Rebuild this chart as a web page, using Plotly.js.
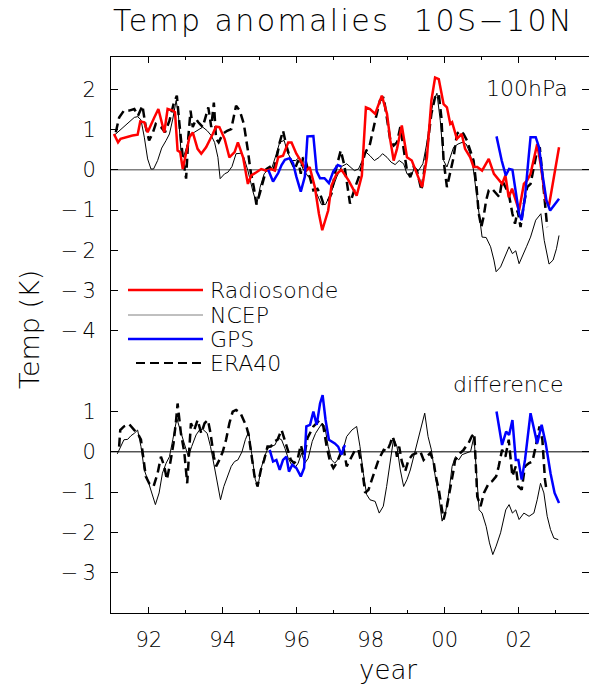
<!DOCTYPE html>
<html>
<head>
<meta charset="utf-8">
<script src="https://cdn.plot.ly/plotly-3.0.1.min.js"></script>
<style>html,body{margin:0;padding:0;background:#fff;}#chart{width:592px;height:684px;}</style>
</head>
<body>
<div id="chart"></div>
<script>
// ---------------- DATA ----------------
// Top panel: 100 hPa temperature anomalies (K)
const radYears = [
 1991.06,1991.17,1991.24,1991.38,1991.56,1991.70,1991.77,1991.88,1991.97,1992.15,
 1992.26,1992.42,1992.51,1992.65,1992.71,1992.78,1992.85,1992.92,1993.01,1993.10,
 1993.19,1993.32,1993.42,1993.55,1993.73,1993.82,1993.91,1994.05,1994.18,1994.32,
 1994.41,1994.55,1994.68,1994.77,1994.91,1994.97,1995.04,1995.18,1995.31,1995.41,
 1995.50,1995.63,1995.77,1995.86,1995.99,1996.13,1996.26,1996.35,1996.49,1996.60,
 1996.69,1996.85,1996.94,1997.08,1997.21,1997.40,1997.62,1997.76,1997.87,1997.98,
 1998.12,1998.30,1998.44,1998.53,1998.62,1998.71,1998.84,1998.98,1999.11,1999.25,
 1999.39,1999.52,1999.64,1999.74,1999.84,1999.97,2000.06,2000.15,2000.20,2000.33,
 2000.46,2000.55,2000.69,2000.78,2000.88,2001.01,2001.19,2001.33,2001.46,2001.55,
 2001.64,2001.73,2001.82,2001.92,2002.01,2002.14,2002.23,2002.32,2002.50,2002.59,
 2002.73,2002.82,2002.95,2003.09];
const radVals = [
 0.89,0.68,0.77,0.81,0.85,0.87,1.20,1.18,0.93,1.30,
 1.51,0.93,1.51,1.47,1.43,0.48,0.44,0.02,0.44,0.81,
 0.93,0.52,0.40,0.56,0.89,1.07,1.06,0.77,0.31,0.44,
 0.68,0.31,-0.35,-0.14,-0.06,-0.02,0.02,-0.02,0.02,-0.02,
 0.31,0.35,0.68,0.68,0.40,0.19,-0.02,0.07,-0.43,-1.09,
 -1.50,-1.01,-0.39,-0.10,0.00,-0.26,-0.64,-0.14,1.55,1.51,
 1.39,1.84,1.39,0.73,0.23,0.52,1.10,0.31,0.23,-0.10,
 -0.43,0.31,1.72,2.29,2.25,1.63,1.55,1.14,1.18,0.77,
 0.89,0.52,0.31,0.07,0.07,-0.02,0.27,-0.10,-0.26,-0.35,
 -0.14,-0.68,-0.47,-0.76,-1.01,-0.35,-0.26,-0.10,0.64,0.15,
 -0.76,-0.88,-0.18,0.56];

const ncepYears = [
 1991.06,1991.20,1991.33,1991.47,1991.61,1991.70,1991.79,1991.88,1991.97,1992.06,
 1992.13,1992.24,1992.35,1992.47,1992.56,1992.65,1992.74,1992.80,1992.87,1992.94,
 1993.04,1993.13,1993.23,1993.37,1993.46,1993.58,1993.69,1993.78,1993.87,1993.93,
 1994.05,1994.14,1994.25,1994.36,1994.48,1994.57,1994.68,1994.82,1994.92,1995.01,
 1995.12,1995.22,1995.33,1995.42,1995.54,1995.66,1995.75,1995.86,1995.97,1996.06,
 1996.17,1996.31,1996.42,1996.54,1996.67,1996.78,1996.92,1997.08,1997.21,1997.35,
 1997.47,1997.56,1997.67,1997.77,1997.87,1997.98,1998.10,1998.23,1998.32,1998.44,
 1998.55,1998.66,1998.77,1998.89,1998.98,1999.10,1999.18,1999.29,1999.41,1999.52,
 1999.61,1999.70,1999.79,1999.88,1999.97,2000.06,2000.15,2000.24,2000.36,2000.47,
 2000.58,2000.67,2000.76,2000.85,2000.94,2001.01,2001.12,2001.24,2001.33,2001.39,
 2001.51,2001.65,2001.74,2001.83,2001.92,2002.01,2002.10,2002.21,2002.32,2002.46,
 2002.60,2002.69,2002.82,2002.93,2003.02,2003.09];
const ncepVals = [
 0.85,0.97,1.06,1.18,1.30,1.32,1.24,0.81,0.27,0.02,
 0.02,0.23,0.54,0.73,0.89,1.26,1.72,1.39,0.48,0.31,
 0.64,0.89,0.93,1.01,1.06,0.97,0.85,0.68,0.31,-0.22,
 -0.10,-0.06,0.08,0.40,0.41,0.31,-0.02,-0.55,-0.86,-0.43,
 -0.10,0.00,0.05,0.31,0.68,0.73,0.44,0.23,0.23,0.30,
 0.02,-0.17,-0.18,-0.59,-0.86,-0.86,-0.59,-0.18,0.08,0.15,
 0.05,-0.02,0.02,0.23,0.44,0.35,0.23,0.31,0.40,0.31,
 0.19,0.13,0.23,0.15,-0.10,-0.14,0.05,-0.02,0.15,0.68,
 1.30,1.72,1.90,1.22,0.23,0.07,0.31,0.56,0.64,0.68,
 0.64,0.44,0.11,-0.51,-1.17,-1.67,-1.68,-1.91,-2.24,-2.53,
 -2.41,-2.08,-1.91,-2.08,-2.01,-2.33,-2.12,-1.91,-1.67,-1.25,
 -1.09,-1.75,-2.34,-2.24,-1.96,-1.63];

const gpsYears = [
 1995.23,1995.36,1995.50,1995.59,1995.68,1995.81,1995.90,1995.99,1996.11,1996.22,
 1996.29,1996.45,1996.54,1996.63,1996.75,1996.87,1996.99,1997.11,1997.21,1999.00,
 2001.40,2001.54,2001.65,2001.74,2001.83,2001.92,2002.01,2002.08,2002.17,2002.26,
 2002.32,2002.46,2002.55,2002.64,2002.75,2002.85,2002.93,2003.09];
const gpsVals = [
 0.00,-0.29,-0.08,0.12,0.25,0.29,0.17,-0.17,-0.54,-0.17,
 0.83,0.84,-0.04,-0.21,-0.21,-0.33,-0.04,0.12,0.08,null,
 0.83,0.23,-0.14,0.02,0.00,-0.51,-1.09,-1.25,-0.68,0.23,
 0.81,0.81,0.56,-0.10,-0.76,-1.01,-0.92,-0.72];

const eraYears = [
 1991.11,1991.20,1991.33,1991.47,1991.61,1991.71,1991.83,1991.92,1992.01,1992.10,
 1992.19,1992.33,1992.44,1992.56,1992.67,1992.76,1992.83,1992.92,1993.01,1993.07,
 1993.13,1993.19,1993.28,1993.34,1993.46,1993.58,1993.61,1993.69,1993.76,1993.82,
 1993.89,1994.00,1994.12,1994.23,1994.36,1994.46,1994.57,1994.68,1994.75,1994.84,
 1994.91,1995.00,1995.09,1995.18,1995.27,1995.36,1995.45,1995.54,1995.63,1995.72,
 1995.84,1995.95,1996.04,1996.11,1996.17,1996.24,1996.33,1996.45,1996.56,1996.63,
 1996.72,1996.85,1996.94,1997.03,1997.12,1997.19,1997.29,1997.44,1997.58,1997.71,
 1997.84,1997.98,1998.12,1998.25,1998.35,1998.44,1998.53,1998.62,1998.71,1998.80,
 1998.89,1998.98,1999.07,1999.16,1999.25,1999.37,1999.46,1999.55,1999.64,1999.74,
 1999.84,1999.91,1999.97,2000.06,2000.15,2000.24,2000.33,2000.42,2000.51,2000.60,
 2000.69,2000.78,2000.86,2000.92,2000.99,2001.05,2001.12,2001.19,2001.28,2001.39,
 2001.48,2001.55,2001.64,2001.73,2001.83,2001.90,2001.97,2002.05,2002.14,2002.23,
 2002.32,2002.41,2002.50,2002.57,2002.64,2002.71,2002.77];
const eraVals = [
 0.93,1.30,1.47,1.47,1.51,1.34,1.59,1.06,0.73,0.89,
 1.14,1.06,0.93,1.22,1.63,1.84,1.14,0.31,-0.22,0.81,
 1.47,1.06,1.26,1.18,1.06,1.47,1.55,1.06,1.67,0.77,
 0.68,0.89,0.97,1.01,1.59,1.47,1.14,0.48,-0.02,-0.43,
 -0.86,-0.59,-0.26,0.02,0.07,-0.06,0.27,0.68,0.97,0.60,
 0.23,0.02,0.23,-0.10,0.31,0.23,-0.10,-0.51,-0.47,-0.59,
 -0.84,-0.76,-0.59,-0.10,0.23,0.48,0.10,-0.84,-0.43,-0.10,
 0.40,0.64,1.22,1.72,1.80,1.30,0.73,0.60,0.68,1.06,
 0.56,-0.02,-0.18,0.07,-0.02,-0.51,0.07,0.81,1.39,1.80,
 1.88,1.30,0.23,-0.43,-0.02,0.31,0.89,0.97,0.89,0.73,
 0.48,0.23,-0.43,-1.09,-1.42,-1.17,-0.76,-0.51,-0.47,-0.59,
 -0.68,-0.26,-0.43,-0.59,-1.09,-1.34,-1.01,-1.42,-0.84,-0.43,
 -0.35,0.07,0.48,0.56,-0.07,-0.76,-1.42];

// Bottom panel: differences (K), drawn shifted down by DIFF_OFFSET
const DIFF_OFFSET = -7;
const ncepDiffYears = [
 1991.15,1991.24,1991.33,1991.43,1991.52,1991.61,1991.70,1991.79,1991.88,1991.97,
 1992.06,1992.18,1992.28,1992.37,1992.47,1992.56,1992.65,1992.76,1992.85,1992.96,
 1993.07,1993.16,1993.28,1993.37,1993.46,1993.58,1993.67,1993.78,1993.87,1993.94,
 1994.03,1994.14,1994.23,1994.32,1994.41,1994.52,1994.61,1994.70,1994.79,1994.88,
 1994.95,1995.04,1995.13,1995.22,1995.31,1995.41,1995.50,1995.59,1995.68,1995.77,
 1995.86,1995.95,1996.04,1996.13,1996.22,1996.31,1996.42,1996.51,1996.60,1996.69,
 1996.76,1996.85,1996.94,1997.03,1997.14,1997.23,1997.35,1997.49,1997.62,1997.71,
 1997.80,1997.89,1997.98,1998.12,1998.23,1998.34,1998.43,1998.52,1998.62,1998.71,
 1998.80,1998.89,1998.98,1999.07,1999.16,1999.25,1999.37,1999.46,1999.55,1999.64,
 1999.73,1999.84,1999.93,2000.02,2000.11,2000.20,2000.29,2000.38,2000.47,2000.57,
 2000.70,2000.79,2000.85,2000.93,2001.01,2001.12,2001.21,2001.30,2001.39,2001.51,
 2001.65,2001.74,2001.83,2001.92,2002.01,2002.14,2002.28,2002.41,2002.50,2002.59,
 2002.68,2002.77,2002.86,2002.95,2003.07];
const ncepDiffVals = [
 -0.05,0.13,0.30,0.31,0.40,0.46,0.54,0.13,-0.45,-0.69,
 -0.94,-1.31,-1.02,-0.53,-0.28,-0.12,0.30,0.83,0.54,0.21,
 -0.12,0.13,0.42,0.54,0.56,0.46,0.13,-0.40,-0.86,-1.19,
 -0.86,-0.61,-0.36,-0.24,-0.20,0.00,0.30,0.50,-0.12,-0.69,
 -0.86,-0.40,-0.12,0.09,0.13,0.17,0.34,0.30,0.09,-0.16,
 -0.32,-0.40,-0.28,-0.03,-0.28,-0.16,0.26,0.46,0.59,0.71,
 0.63,0.13,-0.20,-0.28,-0.16,-0.03,0.38,0.54,0.63,0.13,
 -0.53,-1.06,-1.19,-1.23,-1.52,-1.35,-0.86,-0.28,0.34,0.13,
 -0.45,-0.86,-0.69,-0.45,-0.12,0.21,0.63,0.96,0.38,0.05,
 -0.53,-1.11,-1.72,-1.52,-1.02,-0.36,-0.12,-0.20,-0.07,-0.03,
 0.01,0.38,-0.36,-1.44,-1.52,-1.85,-2.26,-2.55,-2.34,-2.01,
 -1.44,-1.31,-1.52,-1.44,-1.68,-1.52,-1.60,-1.52,-1.19,-0.78,
 -1.02,-1.60,-1.93,-2.14,-2.18];

const eraDiffYears = [
 1991.20,1991.23,1991.33,1991.47,1991.61,1991.70,1991.79,1991.86,1991.92,1992.01,
 1992.13,1992.24,1992.33,1992.42,1992.49,1992.58,1992.67,1992.74,1992.78,1992.87,
 1992.96,1993.04,1993.10,1993.14,1993.23,1993.32,1993.42,1993.51,1993.60,1993.67,
 1993.76,1993.82,1993.91,1994.00,1994.09,1994.18,1994.27,1994.36,1994.48,1994.57,
 1994.64,1994.70,1994.79,1994.86,1994.94,1995.03,1995.12,1995.21,1995.30,1995.39,
 1995.48,1995.59,1995.66,1995.75,1995.84,1995.93,1996.02,1996.11,1996.20,1996.29,
 1996.36,1996.45,1996.54,1996.62,1996.72,1996.81,1996.90,1996.99,1997.08,1997.17,
 1997.26,1997.35,1997.44,1997.58,1997.67,1997.76,1997.85,1997.94,1998.03,1998.12,
 1998.21,1998.35,1998.44,1998.53,1998.59,1998.65,1998.71,1998.77,1998.84,1998.93,
 1999.02,1999.13,1999.22,1999.34,1999.43,1999.52,1999.61,1999.70,1999.76,1999.84,
 1999.91,1999.97,2000.06,2000.15,2000.24,2000.28,2000.36,2000.42,2000.51,2000.57,
 2000.64,2000.73,2000.80,2000.88,2000.97,2001.06,2001.19,2001.28,2001.39,2001.46,
 2001.55,2001.64,2001.73,2001.83,2001.92,2001.99,2002.08,2002.17,2002.28,2002.37,
 2002.46,2002.56,2002.64,2002.71,2002.75];
const eraDiffVals = [
 0.13,0.54,0.63,0.69,0.54,0.46,0.30,-0.28,-0.61,-0.78,
 -0.86,-0.53,-0.12,-0.36,-0.69,-0.28,0.21,0.79,1.20,0.46,
 0.00,-0.78,0.13,0.71,0.54,0.79,0.46,0.71,0.79,0.46,
 -0.12,-0.36,-0.20,0.00,0.30,0.71,1.00,1.04,0.96,0.79,
 0.63,0.42,-0.12,-0.61,-0.86,-0.45,-0.20,0.13,0.13,0.26,
 0.30,0.54,0.34,0.05,-0.20,-0.28,-0.20,0.17,-0.12,0.34,
 0.46,0.63,0.71,0.79,0.63,0.13,-0.24,-0.40,-0.28,-0.07,
 0.13,-0.36,-0.20,0.05,0.05,-0.36,-1.02,-0.94,-0.69,-0.45,
 -0.20,0.05,0.01,0.21,0.38,0.21,-0.12,0.13,-0.24,-0.49,
 -0.20,-0.07,-0.03,0.01,-0.20,-0.12,-0.03,-0.24,-0.61,-0.94,
 -1.35,-1.68,-1.35,-0.94,-0.45,-0.20,-0.12,-0.03,0.05,0.13,
 0.21,0.38,0.46,-1.11,-1.35,-1.02,-0.78,-0.73,-0.61,-0.36,
 0.05,-0.12,0.30,-0.61,-0.36,-0.86,-0.94,-0.36,-0.28,-0.24,
 0.13,0.63,0.30,-0.69,-0.94];

const gpsDiffYears = [
 1995.27,1995.36,1995.45,1995.54,1995.63,1995.72,1995.79,1995.88,1995.99,1996.11,
 1996.20,1996.26,1996.36,1996.45,1996.54,1996.63,1996.70,1996.78,1996.87,1996.96,
 1997.03,1997.12,1997.21,1997.30,1999.00,
 2001.40,2001.55,2001.66,2001.74,2001.83,2001.92,2001.99,2002.08,2002.17,2002.32,
 2002.50,2002.62,2002.73,2002.86,2002.97,2003.09];
const gpsDiffVals = [
 0.05,-0.24,-0.20,-0.45,-0.20,-0.12,-0.49,-0.32,-0.40,-0.61,
 -0.40,0.63,0.67,1.00,0.67,1.20,1.41,0.79,0.30,0.26,
 0.21,0.13,-0.07,0.17,null,
 1.00,0.17,0.50,0.42,0.79,-0.20,-0.20,-0.69,-0.20,0.96,
 0.21,0.67,0.21,-0.53,-1.02,-1.27];

// Tick labels
const xTickVals = [1992,1994,1996,1998,2000,2002];
const xTickText = ['92','94','96','98','00','02'];
const xMinorVals = [1991,1993,1995,1997,1999,2001,2003];
const yTickVals = [2,1,0,-1,-2,-3,-4,-6,-7,-8,-9,-10];
const yTickText = ['2','1','0','\u2212\u20091','\u2212\u20092','\u2212\u20093','\u2212\u20094',
                   '1','0','\u2212\u20091','\u2212\u20092','\u2212\u20093'];
const legendNames = ['Radiosonde','NCEP','GPS','ERA40'];

// ---------------- CHART ----------------
const FONT = 'DejaVu Sans, Liberation Sans, sans-serif';
const W = 200;  // light weight, closer to the thin stroke font of the original
const RED = '#ff0000', BLUE = '#0000ff', BLACK = '#000000', GREY = '#808080';
const shift = a => a.map(v => v === null ? null : v + DIFF_OFFSET);
const f = size => ({family:FONT, size:size, color:BLACK, weight:W});

function line(x, y, color, width, dash) {
  return {type:'scatter', mode:'lines', x:x, y:y, connectgaps:false,
          line:{color:color, width:width, dash:dash||'solid'}, hoverinfo:'skip', showlegend:false};
}

const traces = [
  line(ncepYears, ncepVals, BLACK, 1),
  line(eraYears, eraVals, BLACK, 2.5, '9px,5px'),
  line(radYears, radVals, RED, 2.5),
  line(gpsYears, gpsVals, BLUE, 2.5),
  line(ncepDiffYears, shift(ncepDiffVals), BLACK, 1),
  line(eraDiffYears, shift(eraDiffVals), BLACK, 2.5, '9px,5px'),
  line(gpsDiffYears, shift(gpsDiffVals), BLUE, 2.5),
  {type:'scatter', x:[], y:[], yaxis:'y2', showlegend:false, hoverinfo:'skip'}
];

const L = 111, R = 589, T = 57, B = 613;
const px = X => (X - L) / (R - L);
const py = Y => (B - Y) / (B - T);

const legY = [290, 315, 339, 363];
const legStyle = [
  {color:RED, width:2.5, dash:'solid'},
  {color:GREY, width:1, dash:'solid'},
  {color:BLUE, width:2.5, dash:'solid'},
  {color:BLACK, width:2, dash:'9px,5px'}
];

const shapes = [
  {type:'line', xref:'paper', yref:'y', x0:0, x1:1, y0:0, y1:0, line:{color:GREY, width:1.5}, layer:'below'},
  {type:'line', xref:'paper', yref:'y', x0:0, x1:1, y0:DIFF_OFFSET, y1:DIFF_OFFSET, line:{color:BLACK, width:1}, layer:'below'}
];
legY.forEach((yy, i) => {
  shapes.push({type:'line', xref:'paper', yref:'paper',
    x0:px(i === 3 ? 136 : 128), x1:px(203), y0:py(yy), y1:py(yy), line:legStyle[i]});
});

const annotations = [
  {xref:'paper', yref:'paper', x:0, y:py(21), xanchor:'left', yanchor:'middle', showarrow:false,
   text:'<span style="letter-spacing:2.4px">Temp anomalies\u00a0\u00a010S\u221210N</span>', font:f(30)},
  {xref:'paper', yref:'paper', x:px(570), y:py(89), xanchor:'right', yanchor:'middle', showarrow:false,
   text:'100hPa', font:f(22)},
  {xref:'paper', yref:'paper', x:px(565), y:py(384), xanchor:'right', yanchor:'middle', showarrow:false,
   text:'difference', font:f(22)},
  {xref:'paper', yref:'paper', x:px(388), y:py(670), xanchor:'center', yanchor:'middle', showarrow:false,
   text:'year', font:f(26)},
  {xref:'paper', yref:'paper', x:px(30), y:py(330), xanchor:'center', yanchor:'middle', showarrow:false,
   textangle:-90, text:'Temp\u00a0(K)', font:f(27)}
];
legendNames.forEach((name, i) => {
  annotations.push({xref:'paper', yref:'paper', x:px(208), y:py(legY[i]), xanchor:'left', yanchor:'middle',
    showarrow:false, text:name, font:f(22)});
});

const layout = {
  width:592, height:684,
  margin:{l:L, r:592-R, t:T, b:684-B, pad:0},
  paper_bgcolor:'#ffffff', plot_bgcolor:'#ffffff',
  showlegend:false,
  font:f(14),
  xaxis:{range:[1990.98, 2003.9], showgrid:false, zeroline:false,
    showline:true, linecolor:BLACK, linewidth:1, mirror:'ticks',
    ticks:'inside', ticklen:6, tickwidth:1, tickcolor:BLACK,
    tickmode:'array', tickvals:xTickVals, ticktext:xTickText,
    minor:{tickmode:'array', tickvals:xMinorVals, ticks:'inside', ticklen:3, tickcolor:BLACK, showgrid:false},
    tickfont:f(21), ticklabelstandoff:8},
  yaxis:{range:[-11, 2.8], showgrid:false, zeroline:false,
    showline:true, linecolor:BLACK, linewidth:1,
    ticks:'inside', ticklen:7, tickwidth:1, tickcolor:BLACK,
    tickmode:'array', tickvals:yTickVals, ticktext:yTickText,
    tickfont:f(21), ticklabelstandoff:10},
  yaxis2:{range:[-11, 2.8], overlaying:'y', side:'right', showgrid:false, zeroline:false,
    showline:false, showticklabels:false,
    ticks:'inside', ticklen:7, tickwidth:1, tickcolor:BLACK,
    tickmode:'array', tickvals:yTickVals},
  shapes:shapes,
  annotations:annotations
};

Plotly.newPlot('chart', traces, layout, {staticPlot:true, displayModeBar:false});
</script>
</body>
</html>
